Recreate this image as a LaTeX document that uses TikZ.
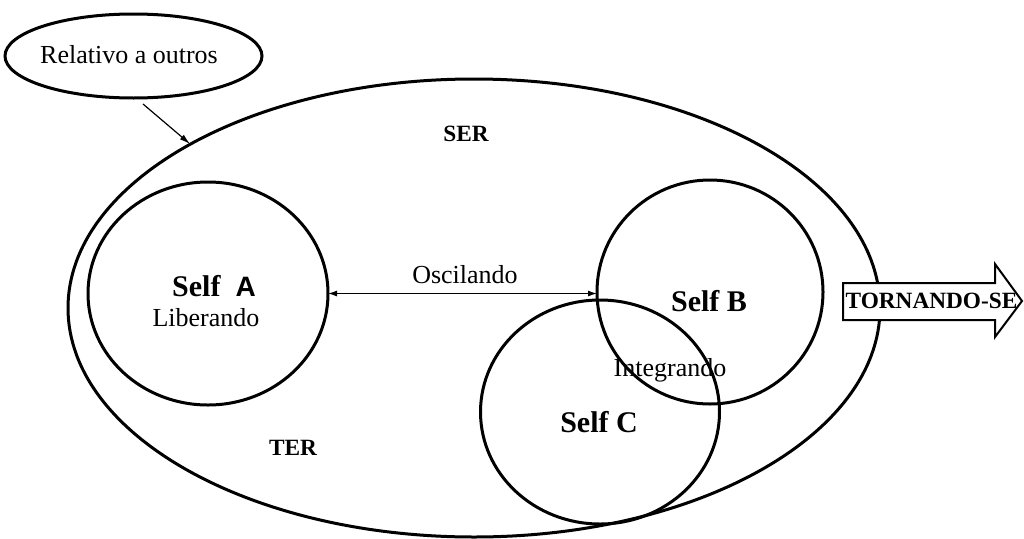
\documentclass[tikz,border=0pt]{standalone}
\usepackage{fontspec}
\setmainfont{Liberation Serif}
\newfontfamily\sansA{Liberation Sans}
\usetikzlibrary{shapes.geometric,arrows.meta}
\begin{document}
\begin{tikzpicture}[x=1pt,y=-1pt,
  ring/.style={draw,ellipse,line width=3pt,inner sep=0pt,outer sep=0pt},
  plain/.style={font=\fontsize{26}{29}\selectfont,inner sep=0pt,anchor=base},
  heavy/.style={font=\bfseries\fontsize{30}{34}\selectfont,inner sep=0pt,anchor=base},
  tag/.style={font=\bfseries\fontsize{23.3}{26}\selectfont,inner sep=0pt,anchor=base},
  link/.style={line width=1.2pt}
]
\useasboundingbox (0,0) rectangle (1024,538);

% outer region and the three selves
\node[ring,minimum width=812pt,minimum height=458pt] (outer) at (474,308) {};
\node[ring,minimum width=240pt,minimum height=223pt] (selfA) at (208,293.5) {};
\node[ring,minimum width=226pt,minimum height=224pt] (selfB) at (710,292) {};
\node[ring,minimum width=239pt,minimum height=224pt] (selfC) at (600,412) {};

% callout bubble
\node[ring,minimum width=257pt,minimum height=84pt] (rel) at (133.5,56) {};
\node[plain] (relText) at (129,63.3) {Relativo a outros};
\coordinate (relTail) at (143,104);
\draw[link,-{Latex[length=11pt,width=6pt]}] (relTail) -- (outer.150.7);

% oscillation between A and B
\draw[link,{Latex[length=9pt,width=6pt]}-{Latex[length=9pt,width=6pt]}]
  (selfA.east) -- (selfA.east -| selfB.west);
\node[plain] (osc) at (465,283.3) {Oscilando};

% labels
\node[heavy] (labA) at (214,296.7) {Self\ \ {\sansA\fontsize{28}{30}\selectfont A}};
\node[plain] (lib) at (206,326) {Liberando};
\node[heavy] (labB) at (709,311.7) {Self B};
\node[heavy] (labC) at (599,432.7) {Self C};
\node[plain] (integ) at (670,376) {Integrando};
\node[tag] (ser) at (466,141) {SER};
\node[tag] (ter) at (293,455) {TER};

% becoming arrow
\draw[line width=2pt,fill=white,line join=miter]
  (843,283) -- (995,283) -- (995,264) -- (1022,301) -- (995,337) -- (995,320) -- (843,320) -- cycle;
\node[tag] (becoming) at (931.5,308) {TORNANDO-SE};
\end{tikzpicture}
\end{document}
